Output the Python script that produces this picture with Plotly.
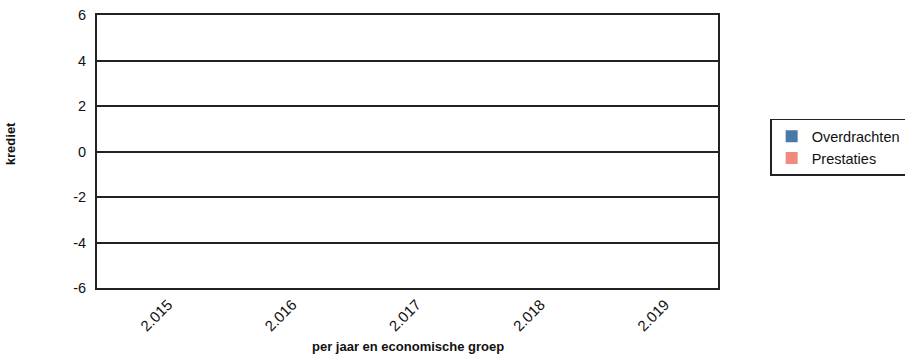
import plotly.graph_objects as go

categories = ["2.015", "2.016", "2.017", "2.018", "2.019"]
overdrachten = [None, None, None, None, None]
prestaties = [None, None, None, None, None]
y_ticks = [-6, -4, -2, 0, 2, 4, 6]

FONT = "Liberation Sans, Arial, sans-serif"

fig = go.Figure()
fig.add_trace(go.Bar(name="Overdrachten", x=categories, y=overdrachten,
                     marker=dict(color="#4a78a8", line=dict(width=0)), showlegend=True))
fig.add_trace(go.Bar(name="Prestaties", x=categories, y=prestaties,
                     marker=dict(color="#ee8a7e", line=dict(width=0)), showlegend=True))

fig.update_layout(
    width=905, height=356,
    margin=dict(l=97, r=187, t=15, b=68, autoexpand=False),
    paper_bgcolor="white", plot_bgcolor="white",
    font=dict(family=FONT, size=14, color="#111"),
    barmode="group",
    legend=dict(x=1.084, y=0.620, xanchor="left", yanchor="top",
                bordercolor="#222", borderwidth=1.5, bgcolor="white",
                font=dict(size=14.5, family=FONT, color="#111"),
                tracegroupgap=0, itemwidth=30),
    xaxis=dict(type="category", categoryorder="array", categoryarray=categories,
               tickangle=-45, showgrid=False, showline=True, linecolor="#222",
               linewidth=2, mirror=True, ticks="", tickfont=dict(size=15),
               ticklabelshift=9, ticklabelstandoff=0, ticklabeloverflow="allow"),
    yaxis=dict(range=[-6, 6], tickvals=y_ticks, ticktext=[str(v) for v in y_ticks],
               showgrid=True, gridcolor="#222", gridwidth=2,
               zeroline=True, zerolinecolor="#222", zerolinewidth=2,
               showline=True, linecolor="#222", linewidth=2, mirror=True,
               ticks="", ticklabelstandoff=6, tickfont=dict(size=14.5),
               ticklabeloverflow="allow"),
    annotations=[
        dict(text="<b>per jaar en economische groep</b>", xref="paper", yref="paper",
             x=0.5, y=-0.2125, xanchor="center", yanchor="middle", showarrow=False,
             font=dict(size=13, family=FONT, color="#111")),
        dict(text="<b>krediet</b>", xref="paper", yref="paper",
             x=-0.140, y=0.527, xanchor="center", yanchor="middle", showarrow=False,
             textangle=-90, font=dict(size=13, family=FONT, color="#111")),
    ],
)

fig.write_html("out.html", config={"displayModeBar": False},
               post_script="document.body.style.margin='0px';")
